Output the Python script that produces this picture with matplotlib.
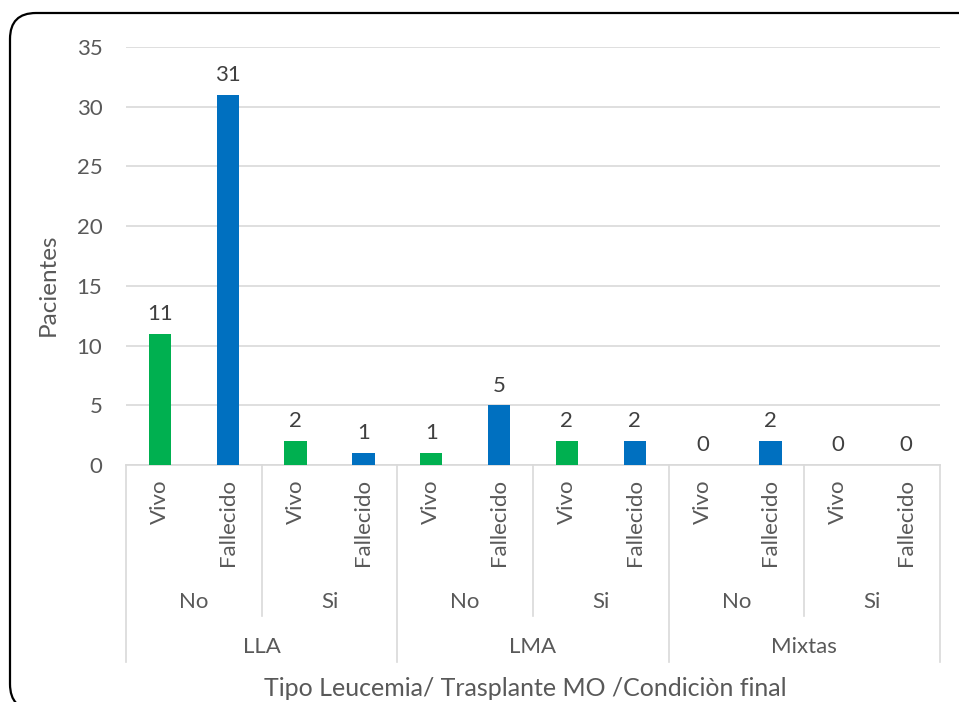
import matplotlib
matplotlib.use("Agg")
import matplotlib.pyplot as plt
from matplotlib.patches import FancyBboxPatch
from matplotlib.lines import Line2D
from matplotlib.transforms import IdentityTransform

plt.rcParams['font.family'] = ['Lato', 'DejaVu Sans']

# data
tipos = ["LLA", "LMA", "Mixtas"]
trasplante = ["No", "Si"]
condicion = ["Vivo", "Fallecido"]
pacientes = [11, 31, 2, 1, 1, 5, 2, 2, 0, 2, 0, 0]
colores = {"Vivo": "#00B050", "Fallecido": "#0070C0"}

txt = "#595959"
grid_c = "#D9D9D9"
fs = 16

W, H = 959, 702
fig = plt.figure(figsize=(W / 100, H / 100), dpi=100)
L, R, B, T = 126, 940, 465, 47
ax = fig.add_axes([L / W, 1 - B / H, (R - L) / W, (B - T) / H])

n = len(pacientes)
xs = list(range(n))
cond_labels = [condicion[i % 2] for i in range(n)]
bar_cols = [colores[c] for c in cond_labels]
ax.bar(xs, pacientes, width=0.33, color=bar_cols, zorder=3)
for x, v in zip(xs, pacientes):
    ax.annotate(str(v), (x, v), xytext=(0, 7), textcoords="offset points",
                ha="center", va="bottom", fontsize=fs, color="#404040")

ax.set_xlim(-0.5, n - 0.5)
ax.set_ylim(0, 35)
ax.set_yticks(range(0, 36, 5))
ax.yaxis.grid(True, color=grid_c, linewidth=1.2, zorder=0)
ax.set_axisbelow(True)
ax.tick_params(axis="y", length=0, pad=17, labelsize=fs, labelcolor=txt)
ax.set_xticks([])
for s in ["top", "right", "left"]:
    ax.spines[s].set_visible(False)
ax.spines["bottom"].set_color(grid_c)
ax.spines["bottom"].set_linewidth(1.2)

fig.text(48 / W, 1 - 285 / H, "Pacientes", rotation=90, ha="center",
         va="center", fontsize=17.5, color=txt)

# multi-level category axis
tr = ax.get_xaxis_transform()
def fy(py):
    return -(py - B) / (B - T)

for x, c in zip(xs, cond_labels):
    ax.text(x, fy(479), c, rotation=90, ha="center", va="top",
            fontsize=fs, color=txt, transform=tr, clip_on=False)

for i, t in enumerate(tipos):
    for j, s in enumerate(trasplante):
        cx = i * 4 + j * 2 + 0.5
        ax.text(cx, fy(602), s, ha="center", va="center", fontsize=fs,
                color=txt, transform=tr, clip_on=False)
    ax.text(i * 4 + 1.5, fy(647), t, ha="center", va="center", fontsize=fs,
            color=txt, transform=tr, clip_on=False)

for k in range(0, n + 1, 2):
    xb = k - 0.5
    bottom = fy(662) if k % 4 == 0 else fy(616)
    ax.add_line(Line2D([xb, xb], [0, bottom], transform=tr, color=grid_c,
                       linewidth=1.2, clip_on=False))

fig.text(525 / W, 1 - 689 / H, "Tipo Leucemia/ Trasplante MO /Condiciòn final",
         ha="center", va="center", fontsize=18, color=txt)

# rounded outer border (pixel coords, origin bottom-left)
fig.patches.append(FancyBboxPatch((10, -8), 975, H - 13 + 8,
                                  boxstyle="round,pad=0,rounding_size=26",
                                  transform=IdentityTransform(), fill=False,
                                  edgecolor="black", linewidth=1.6))

fig.savefig("out.png", dpi=100)
